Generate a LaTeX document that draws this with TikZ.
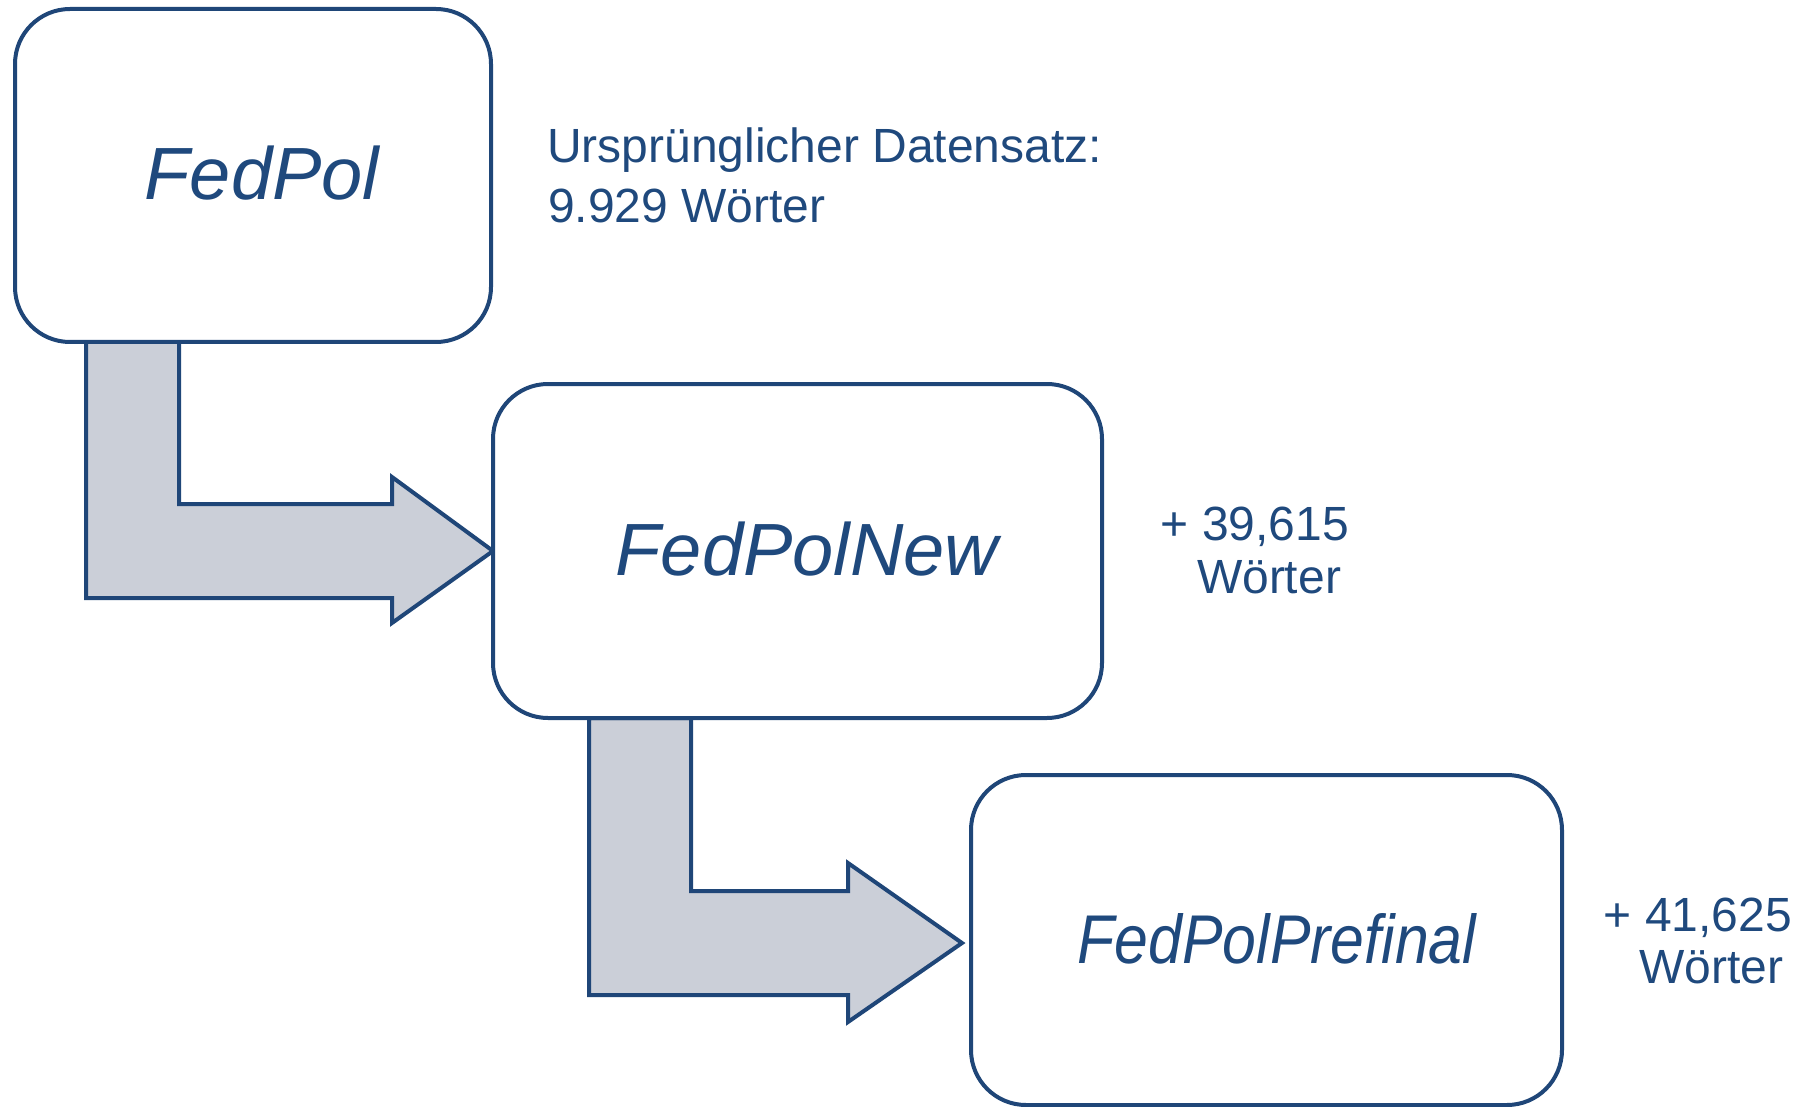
\documentclass[tikz,border=0pt]{standalone}
\usepackage{fontspec}
\setmainfont{Liberation Sans}
\usetikzlibrary{calc,backgrounds}
\definecolor{edgeblue}{RGB}{31,70,120}
\definecolor{textblue}{RGB}{31,73,125}
\definecolor{arrowfill}{RGB}{203,207,216}

\begin{document}
\begin{tikzpicture}[x=1pt,y=-1pt,
  stage/.style={draw=edgeblue, line width=4pt, fill=white, rounded corners=55pt,
    outer sep=0pt, inner sep=0pt},
  stagename/.style={text=textblue, inner sep=0pt, anchor=base,
    font=\fontsize{74}{80}\selectfont\itshape},
  blockarrow/.style={draw=edgeblue, line width=4pt, fill=arrowfill, line join=miter},
  count/.style={text=textblue, inner sep=0pt, anchor=base,
    font=\fontsize{48}{56}\selectfont}]

\useasboundingbox (0,0) rectangle (1813,1107);

% the three stages of the data set
\node[stage, minimum width=476pt, minimum height=333pt] (b1) at (253,175.5) {};
\node[stage, minimum width=609pt, minimum height=334pt] (b2) at (797.5,551) {};
\node[stage, minimum width=591pt, minimum height=330pt] (b3) at (1266.5,940) {};

\node[stagename] (n1) at (262,200) {FedPol};
\node[stagename] (n2) at (807,575) {FedPolNew};
\node[stagename] (n3) at (1277,963) {\scalebox{0.88}[1]{\fontsize{69}{75}\selectfont FedPolPrefinal}};

% bent block arrows between the stages
\coordinate (t1) at (b2.west);
\coordinate (t2) at ($(b3.west)+(-9,3)$);
\begin{scope}[on background layer]
\draw[blockarrow]
  ($(b1.south west)+(164,0)$) |- ($(t1)+(-101,-47)$)
  -- ($(t1)+(-101,-74)$) -- (t1) -- ($(t1)+(-101,72)$)
  -- ($(t1)+(-101,47)$) -| ($(b1.south west)+(71,0)$) -- cycle;
\draw[blockarrow]
  ($(b2.south west)+(198,0)$) |- ($(t2)+(-114,-52)$)
  -- ($(t2)+(-114,-80)$) -- (t2) -- ($(t2)+(-114,79)$)
  -- ($(t2)+(-114,52)$) -| ($(b2.south west)+(96,0)$) -- cycle;
\end{scope}

% word counts
\node[count, anchor=base west] (src1) at (547,163) {Ursprünglicher Datensatz:};
\node[count, anchor=base west] (src2) at (548,223) {9.929 Wörter};
\node[count] (add1a) at (1255,540) {+ 39,615};
\node[count] (add1b) at (1269,593) {Wörter};
\node[count] (add2a) at (1698,931) {+ 41,625};
\node[count] (add2b) at (1711,983) {Wörter};
\end{tikzpicture}
\end{document}
